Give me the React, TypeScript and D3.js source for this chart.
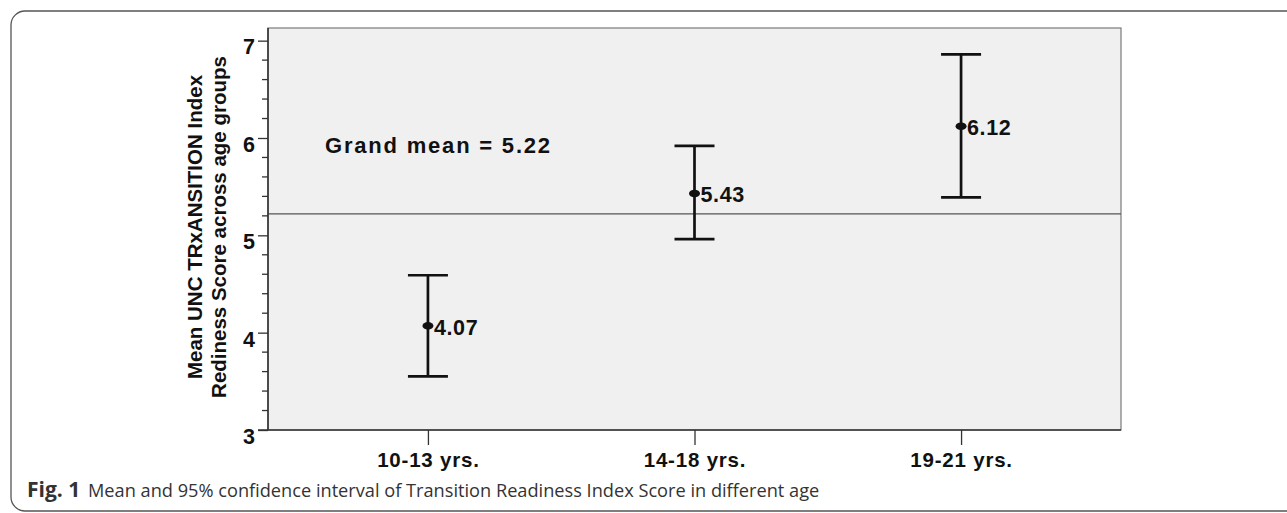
import React, { useEffect, useRef } from 'react';
import * as d3 from 'd3';

const groups = ['10-13 yrs.', '14-18 yrs.', '19-21 yrs.'];
const means = [4.07, 5.43, 6.12];
const lowerCI = [3.55, 4.96, 5.39];
const upperCI = [4.59, 5.92, 6.86];
const grandMean = 5.22;
const yTicks = [3, 4, 5, 6, 7];

const W = 1287;
const H = 513;

const App: React.FC = () => {
  const svgRef = useRef<SVGSVGElement>(null);

  useEffect(() => {
    if (!svgRef.current) return;
    const svg = d3.select(svgRef.current);
    svg.selectAll('*').remove();

    const plot = { left: 268, right: 1121, top: 28, bottom: 430 };
    const font = '"Liberation Sans", Arial, sans-serif';

    const x = d3.scalePoint<string>()
      .domain(groups)
      .range([plot.left, plot.right])
      .padding(0.6);

    const y = d3.scaleLinear()
      .domain([3, 7.13])
      .range([plot.bottom, plot.top]);

    // outer figure frame
    svg.append('rect')
      .attr('x', 11)
      .attr('y', 11)
      .attr('width', W + 40)
      .attr('height', 500)
      .attr('rx', 14)
      .attr('fill', 'white')
      .attr('stroke', '#555')
      .attr('stroke-width', 1.3);

    // plot background
    svg.append('rect')
      .attr('x', plot.left)
      .attr('y', plot.top)
      .attr('width', plot.right - plot.left)
      .attr('height', plot.bottom - plot.top)
      .attr('fill', '#f0f0f0')
      .attr('stroke', '#7a7a7a')
      .attr('stroke-width', 1.2);

    // grand mean reference line
    svg.append('line')
      .attr('x1', plot.left)
      .attr('x2', plot.right)
      .attr('y1', y(grandMean))
      .attr('y2', y(grandMean))
      .attr('stroke', '#555')
      .attr('stroke-width', 1.3);

    svg.append('text')
      .attr('x', 325)
      .attr('y', 153)
      .attr('font-family', font)
      .attr('font-weight', 'bold')
      .attr('font-size', 22)
      .attr('letter-spacing', 1.8)
      .attr('fill', '#111')
      .text(`Grand mean = ${grandMean.toFixed(2)}`);

    // y axis: minor ticks every 0.2
    const minor = d3.range(15, 36).map(k => k / 5).filter(v => !yTicks.includes(v));
    svg.append('g')
      .selectAll('line')
      .data(minor)
      .join('line')
      .attr('x1', plot.left - 6)
      .attr('x2', plot.left)
      .attr('y1', d => y(d))
      .attr('y2', d => y(d))
      .attr('stroke', '#333')
      .attr('stroke-width', 1.3);

    // y axis: major ticks + labels
    const yAxis = svg.append('g')
      .attr('transform', `translate(${plot.left},0)`)
      .call(d3.axisLeft(y).tickValues(yTicks).tickSize(10).tickPadding(3).tickFormat(d3.format('d')));
    yAxis.select('.domain')
      .attr('d', `M0,${plot.top}V${plot.bottom}`)
      .attr('stroke', '#333')
      .attr('stroke-width', 1.6);
    yAxis.selectAll('line').attr('stroke', '#333').attr('stroke-width', 1.3);
    yAxis.selectAll('text')
      .attr('dy', '0.62em')
      .attr('font-family', font)
      .attr('font-weight', 'bold')
      .attr('font-size', 21.5)
      .attr('fill', '#111');

    // x axis
    const xAxis = svg.append('g')
      .attr('transform', `translate(0,${plot.bottom})`)
      .call(d3.axisBottom(x).tickSize(15).tickPadding(7));
    xAxis.select('.domain')
      .attr('d', `M${plot.left - 10},0H${plot.right}`)
      .attr('stroke', '#333')
      .attr('stroke-width', 1.6);
    xAxis.selectAll('line').attr('stroke', '#333').attr('stroke-width', 1.3);
    xAxis.selectAll('text')
      .attr('font-family', font)
      .attr('font-weight', 'bold')
      .attr('font-size', 20.5)
      .attr('letter-spacing', 0.8)
      .attr('fill', '#111');

    // y axis title
    const yTitle = svg.append('text')
      .attr('transform', 'translate(0,227) rotate(-90)')
      .attr('text-anchor', 'middle')
      .attr('font-family', font)
      .attr('font-weight', 'bold')
      .attr('font-size', 20.5)
      .attr('fill', '#111');
    yTitle.append('tspan').attr('x', 0).attr('y', 202).text('Mean UNC TRxANSITION Index');
    yTitle.append('tspan').attr('x', 0).attr('y', 226).text('Rediness Score across age groups');

    // error bars
    const capHalf = 20;
    groups.forEach((g, i) => {
      const cx = x(g) || 0;
      const bar = svg.append('g').attr('stroke', '#111').attr('stroke-width', 2.7);
      bar.append('line')
        .attr('x1', cx).attr('x2', cx)
        .attr('y1', y(upperCI[i])).attr('y2', y(lowerCI[i]));
      [upperCI[i], lowerCI[i]].forEach(v => {
        bar.append('line')
          .attr('x1', cx - capHalf).attr('x2', cx + capHalf)
          .attr('y1', y(v)).attr('y2', y(v));
      });
      svg.append('ellipse')
        .attr('cx', cx)
        .attr('cy', y(means[i]))
        .attr('rx', 5.5)
        .attr('ry', 3.8)
        .attr('fill', '#111');
      svg.append('text')
        .attr('x', cx + 6)
        .attr('y', y(means[i]) + 9)
        .attr('font-family', font)
        .attr('font-weight', 'bold')
        .attr('font-size', 21.5)
        .attr('letter-spacing', 0.6)
        .attr('fill', '#111')
        .text(means[i].toFixed(2));
    });

    // caption
    const caption = svg.append('text')
      .attr('x', 27)
      .attr('y', 497)
      .attr('font-family', '"Open Sans", "Noto Sans", sans-serif')
      .attr('fill', '#333')
      .attr('font-size', 18.2);
    caption.append('tspan').attr('font-weight', 'bold').attr('font-size', 21).text('Fig. 1');
    caption.append('tspan').attr('x', 88)
      .text('Mean and 95% confidence interval of Transition Readiness Index Score in different age');
  }, []);

  return (
    <svg
      ref={svgRef}
      width={W}
      height={H}
      viewBox={`0 0 ${W} ${H}`}
      style={{ position: 'absolute', left: 0, top: 0, display: 'block' }}
    />
  );
};

export default App;
